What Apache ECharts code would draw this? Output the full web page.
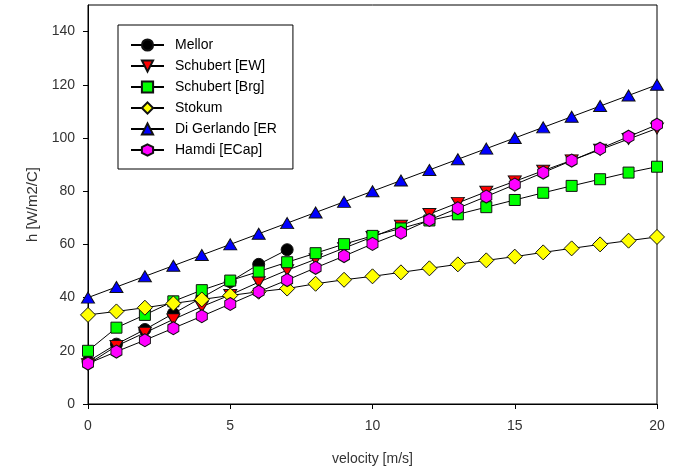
<!DOCTYPE html>
<html>
<head>
<meta charset="utf-8">
<script src="https://cdn.jsdelivr.net/npm/echarts@6/dist/echarts.min.js"></script>
<style>html,body{margin:0;padding:0;background:#fff}#c{width:676px;height:471px}</style>
</head>
<body>
<div id="c"></div>
<script>
const velocity = [0,1,2,3,4,5,6,7,8,9,10,11,12,13,14,15,16,17,18,19,20];
const mellor = [16, 22.5, 28, 34, 40, 46, 52.5, 58];
const schubertEW = [15, 21.8, 26.8, 31.8, 36.6, 41, 45.8, 50.3, 54.4, 58.6, 62.8, 67, 71.4, 75.6, 79.8, 83.7, 87.7, 91.6, 95.6, 99.6, 103.6];
const schubertBrg = [20, 28.7, 33.5, 38.6, 42.8, 46.4, 49.8, 53.3, 56.7, 60.1, 63.2, 66, 69, 71.3, 74, 76.7, 79.4, 82, 84.5, 87, 89.2];
const stokum = [33.5, 34.8, 36.2, 37.8, 39.3, 40.8, 42.2, 43.4, 45.2, 46.7, 48, 49.5, 51, 52.5, 54, 55.4, 57, 58.5, 60, 61.4, 62.8];
const diGerlando = [40, 44, 48, 52, 56, 60, 64, 68, 72, 76, 80, 84, 88, 92, 96, 100, 104, 108, 112, 116, 120];
const hamdi = [15.2, 19.7, 24, 28.5, 33, 37.6, 42.2, 46.6, 51.2, 55.6, 60.2, 64.4, 69.2, 73.6, 78, 82.5, 87, 91.5, 96, 100.5, 105];
const seriesNames = ['Mellor', 'Schubert [EW]', 'Schubert [Brg]', 'Stokum', 'Di Gerlando [ER', 'Hamdi [ECap]'];
const xTicks = [0, 5, 10, 15, 20];
const yTicks = [0, 20, 40, 60, 80, 100, 120, 140];

const FONT = 'Liberation Sans, Arial, sans-serif';
const pairs = arr => arr.map((v, i) => [velocity[i], v]);
const styles = [
  {symbol: 'circle', size: 12, color: '#000000'},
  {symbol: 'path://M0,0 L2,0 L1,1.7 Z', size: [13, 11], color: '#ff0000'},
  {symbol: 'rect', size: 11, color: '#00ff00'},
  {symbol: 'diamond', size: 15, color: '#ffff00'},
  {symbol: 'triangle', size: [13, 11], color: '#0000ff'},
  {symbol: 'path://M0,-1 L0.866,-0.5 L0.866,0.5 L0,1 L-0.866,0.5 L-0.866,-0.5 Z', size: [11, 13], color: '#ff00ff'}
];
const datasets = [mellor, schubertEW, schubertBrg, stokum, diGerlando, hamdi];

const chart = echarts.init(document.getElementById('c'), null, {renderer: 'canvas'});
chart.setOption({
  animation: false,
  backgroundColor: '#fff',
  grid: {left: 88, right: 19, top: 5, bottom: 67, show: true, borderColor: '#000', borderWidth: 1, backgroundColor: 'transparent'},
  legend: {
    orient: 'vertical', left: 118, top: 25,
    padding: [13, 16, 12, 12],
    borderColor: '#000', borderWidth: 1, backgroundColor: '#fff',
    itemGap: 7, itemWidth: 33, itemHeight: 14,
    textStyle: {fontSize: 14, color: '#000', fontFamily: FONT, padding: [0, 0, 0, 6]},
    data: seriesNames
  },
  xAxis: {
    type: 'value', min: 0, max: 20, interval: 5,
    name: 'velocity [m/s]', nameLocation: 'middle', nameGap: 48,
    nameTextStyle: {fontSize: 14, color: '#333', fontFamily: FONT},
    axisLine: {lineStyle: {color: '#000', width: 1}},
    axisTick: {show: true, length: 5, lineStyle: {color: '#000'}, customValues: xTicks},
    axisLabel: {fontSize: 14, color: '#333', fontFamily: FONT, margin: 15, customValues: xTicks},
    splitLine: {show: false}
  },
  yAxis: {
    type: 'value', min: 0, max: 150, interval: 20,
    name: 'h [W/m2/C]', nameLocation: 'middle', nameGap: 45, nameRotate: 90,
    nameTextStyle: {fontSize: 15, color: '#333', fontFamily: FONT},
    axisLine: {show: true, lineStyle: {color: '#000', width: 1}},
    axisTick: {show: true, length: 5, lineStyle: {color: '#000'}, customValues: yTicks},
    axisLabel: {fontSize: 14, color: '#333', fontFamily: FONT, margin: 13, customValues: yTicks},
    splitLine: {show: false}
  },
  series: datasets.map((d, i) => ({
    name: seriesNames[i],
    type: 'line',
    data: pairs(d),
    symbol: styles[i].symbol,
    symbolSize: styles[i].size,
    showAllSymbol: true,
    lineStyle: {color: '#000', width: 1},
    itemStyle: {color: styles[i].color, borderColor: '#111', borderWidth: 1},
    emphasis: {disabled: true},
    z: 2 + i
  }))
});
</script>
</body>
</html>
